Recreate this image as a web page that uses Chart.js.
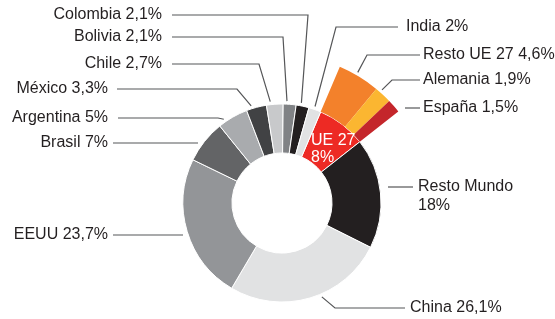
<!DOCTYPE html>
<html>
<head>
<meta charset="utf-8">
<script src="https://cdn.jsdelivr.net/npm/chart.js@4/dist/chart.umd.min.js"></script>
<style>
  html, body { margin: 0; padding: 0; background: #fff; overflow: hidden; }
  #wrap { width: 555px; height: 319px; overflow: hidden; }
</style>
</head>
<body>
<div id="wrap"><canvas id="chart" width="555" height="406"></canvas></div>
<script>
// cuota por país / región (%), en sentido horario desde UE 27
const categories = ['UE 27', 'Resto Mundo', 'China', 'EEUU', 'Brasil', 'Argentina', 'México', 'Chile', 'Bolivia', 'Colombia', 'India'];
const shares = [8, 18, 26.1, 23.7, 7, 5, 3.3, 2.7, 2.1, 2.1, 2];

// desglose de la UE 27 (anillo exterior)
const euCategories = ['Resto UE 27', 'Alemania', 'España'];
const euShares = [4.6, 1.9, 1.5];

const colors = ['#ed2a24', '#231f20', '#e1e2e3', '#939598', '#636466', '#a9abae', '#414244', '#c8c9cb', '#808285', '#231f20', '#e1e2e3'];
const euColors = ['#f3812b', '#fbb631', '#c4262b'];

const fmt = v => String(v).replace('.', ',') + '%';

// posición de las etiquetas; "at" = fracción dentro del sector donde toca la línea
const leader = [
  { ring: 1, i: 9, side: 'l', y: 15, textX: 162, lineX: 172, elbowX: 308, at: 0.36 },
  { ring: 1, i: 8, side: 'l', y: 37, textX: 162, lineX: 172, elbowX: 283, at: 0.28 },
  { ring: 1, i: 7, side: 'l', y: 64, textX: 162, lineX: 172, elbowX: 259, at: 0.25 },
  { ring: 1, i: 6, side: 'l', y: 89, textX: 108, lineX: 117, elbowX: 237, at: 0.28 },
  { ring: 1, i: 5, side: 'l', y: 118, textX: 108, lineX: 118, elbowX: 218, at: 0.23 },
  { ring: 1, i: 4, side: 'l', y: 143, textX: 108, lineX: 113, endX: 198 },
  { ring: 1, i: 3, side: 'l', y: 235, textX: 108, lineX: 113, endX: 183 },
  { ring: 1, i: 10, side: 'r', y: 27, textX: 406, lineX: 398, elbowX: 336, at: 0.43 },
  { ring: 0, i: 0, side: 'r', y: 55, textX: 423, lineX: 420, elbowX: 367, at: 0.43 },
  { ring: 0, i: 1, side: 'r', y: 80, textX: 423, lineX: 420, elbowX: 392, at: 0.28 },
  { ring: 0, i: 2, side: 'r', y: 108, textX: 423, lineX: 420, endX: 405 },
  { ring: 1, i: 1, side: 'r', y: 187, textX: 418, lineX: 413, endX: 388, split: true },
  { ring: 1, i: 2, side: 'r', y: 308, textX: 410, lineX: 405, elbowX: 335, at: 0.43 }
];

const leaderLabels = {
  id: 'leaderLabels',
  afterDraw(chart) {
    const ctx = chart.ctx;
    ctx.save();
    ctx.font = '16px "Liberation Sans", Arial, sans-serif';
    ctx.textBaseline = 'middle';
    leader.forEach(l => {
      const arc = chart.getDatasetMeta(l.ring).data[l.i];
      const name = l.ring === 0 ? euCategories[l.i] : categories[l.i];
      const value = l.ring === 0 ? euShares[l.i] : shares[l.i];

      ctx.strokeStyle = '#555658';
      ctx.lineWidth = 1.2;
      ctx.beginPath();
      ctx.moveTo(l.lineX, l.y);
      if (l.elbowX !== undefined) {
        const a = arc.startAngle + (arc.endAngle - arc.startAngle) * l.at;
        const r = arc.outerRadius + 3;
        ctx.lineTo(l.elbowX, l.y);
        ctx.lineTo(arc.x + Math.cos(a) * r, arc.y + Math.sin(a) * r);
      } else {
        ctx.lineTo(l.endX, l.y);
      }
      ctx.stroke();

      ctx.fillStyle = '#231f20';
      ctx.textAlign = l.side === 'l' ? 'right' : 'left';
      if (l.split) {
        ctx.fillText(name, l.textX, l.y);
        ctx.fillText(fmt(value), l.textX, l.y + 19);
      } else {
        ctx.fillText(name + ' ' + fmt(value), l.textX, l.y);
      }
    });

    // rótulo dentro del sector UE 27
    const eu = chart.getDatasetMeta(1).data[0];
    ctx.fillStyle = '#ffffff';
    ctx.font = '16px "Liberation Sans", Arial, sans-serif';
    ctx.textAlign = 'left';
    ctx.fillText(categories[0], eu.x + 29, eu.y - 62);
    ctx.fillText(fmt(shares[0]), eu.x + 29, eu.y - 45);
    ctx.restore();
  }
};

const rest = shares.slice(1).reduce((s, v) => s + v, 0);

new Chart(document.getElementById('chart'), {
  type: 'doughnut',
  data: {
    labels: categories,
    datasets: [
      {
        data: [...euShares, rest],
        backgroundColor: [...euColors, 'rgba(0,0,0,0)'],
        borderWidth: 0
      },
      {
        data: shares,
        backgroundColor: colors,
        borderColor: '#ffffff',
        borderWidth: 1
      }
    ]
  },
  options: {
    responsive: false,
    animation: false,
    rotation: 23,
    cutout: 50,
    layout: { padding: { top: 55, bottom: 55, left: 9, right: 0 } },
    plugins: {
      legend: { display: false },
      tooltip: { enabled: false }
    }
  },
  plugins: [leaderLabels]
});
</script>
</body>
</html>
